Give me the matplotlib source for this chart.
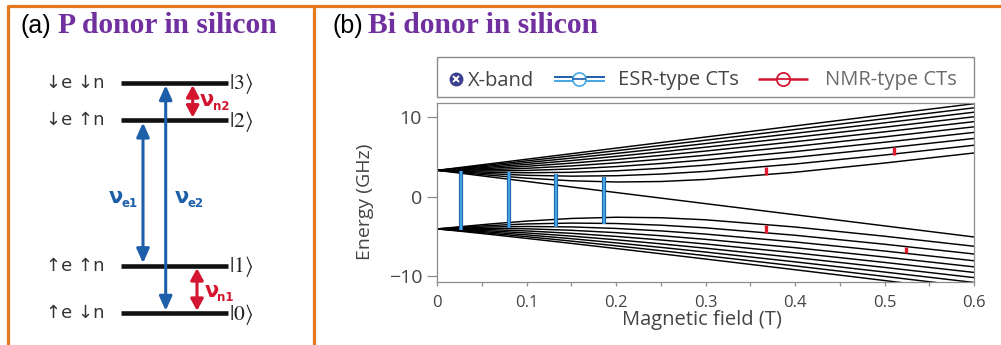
import matplotlib
matplotlib.use("Agg")
import matplotlib.pyplot as plt
from matplotlib.patches import Rectangle
from matplotlib.ticker import MultipleLocator

# ---------------- data ----------------
# Bi donor energy levels (GHz) versus magnetic field (T)
B_FIELD = [0.0, 0.03, 0.06, 0.10, 0.15, 0.20, 0.25, 0.30, 0.40, 0.50, 0.60]

UPPER_LEVELS = [
    [3.320, 2.900, 2.481, 1.921, 1.222, 0.523, -0.177, -0.876, -2.275, -3.674, -5.072],
    [3.320, 2.994, 2.690, 2.335, 2.003, 1.850, 1.911, 2.171, 3.079, 4.239, 5.505],
    [3.320, 3.085, 2.886, 2.693, 2.585, 2.640, 2.849, 3.186, 4.119, 5.249, 6.479],
    [3.320, 3.173, 3.071, 3.013, 3.069, 3.261, 3.570, 3.971, 4.960, 6.103, 7.330],
    [3.320, 3.259, 3.247, 3.305, 3.493, 3.791, 4.178, 4.634, 5.685, 6.856, 8.096],
    [3.320, 3.344, 3.414, 3.576, 3.875, 4.261, 4.714, 5.218, 6.333, 7.538, 8.798],
    [3.320, 3.426, 3.575, 3.830, 4.225, 4.687, 5.198, 5.747, 6.923, 8.166, 9.451],
    [3.320, 3.507, 3.729, 4.069, 4.551, 5.080, 5.644, 6.234, 7.468, 8.750, 10.062],
    [3.320, 3.586, 3.877, 4.296, 4.856, 5.446, 6.059, 6.687, 7.978, 9.299, 10.640],
    [3.320, 3.664, 4.020, 4.512, 5.144, 5.791, 6.448, 7.113, 8.459, 9.819, 11.189],
    [3.320, 3.740, 4.159, 4.719, 5.418, 6.117, 6.817, 7.516, 8.915, 10.314, 11.712],
]

LOWER_LEVELS = [
    [-4.058, -3.732, -3.428, -3.073, -2.741, -2.588, -2.649, -2.909, -3.817, -4.977, -6.243],
    [-4.058, -3.823, -3.624, -3.431, -3.323, -3.378, -3.587, -3.924, -4.857, -5.987, -7.217],
    [-4.058, -3.911, -3.809, -3.751, -3.807, -3.999, -4.308, -4.709, -5.698, -6.841, -8.068],
    [-4.058, -3.997, -3.985, -4.043, -4.231, -4.529, -4.916, -5.372, -6.423, -7.594, -8.834],
    [-4.058, -4.082, -4.152, -4.314, -4.613, -4.999, -5.452, -5.956, -7.071, -8.276, -9.536],
    [-4.058, -4.164, -4.313, -4.568, -4.963, -5.425, -5.936, -6.485, -7.661, -8.904, -10.189],
    [-4.058, -4.245, -4.467, -4.807, -5.289, -5.818, -6.382, -6.972, -8.206, -9.488, -10.800],
    [-4.058, -4.324, -4.615, -5.034, -5.594, -6.184, -6.797, -7.425, -8.716, -10.037, -11.378],
    [-4.058, -4.402, -4.758, -5.250, -5.882, -6.529, -7.186, -7.851, -9.197, -10.557, -11.927],
]

# ESR-type clock transitions (field, lower and upper energy)
ESR_FIELD = [0.0266, 0.0799, 0.1332, 0.1866]
ESR_LOW = [-4.15, -3.99, -3.77, -3.40]
ESR_HIGH = [3.27, 3.15, 2.85, 2.50]

# NMR-type clock transitions
NMR_FIELD = [0.367, 0.5106, 0.368, 0.5237]
NMR_LOW = [2.75, 5.30, -4.56, -7.15]
NMR_HIGH = [3.75, 6.20, -3.56, -6.30]

X_TICKS = [0, 0.1, 0.2, 0.3, 0.4, 0.5, 0.6]
X_TICK_LABELS = ["0", "0.1", "0.2", "0.3", "0.4", "0.5", "0.6"]
Y_TICKS = [-10, 0, 10]

# P donor level scheme
SPIN_LABELS = ["↑e ↓n", "↑e ↑n", "↓e ↑n", "↓e ↓n"]
KET_LABELS = [r"$|0\rangle$", r"$|1\rangle$", r"$|2\rangle$", r"$|3\rangle$"]

# ---------------- style ----------------
ORANGE = "#E4781E"
PURPLE = "#7030A0"
BLUE_DARK = "#1E5FAA"
BLUE_LIGHT = "#46A6E2"
RED = "#D3152F"
GRAY = "#8C8C8C"
TXT = "#444444"
SANS = ["Open Sans", "DejaVu Sans"]

fig = plt.figure(figsize=(10.01, 3.45), dpi=100)

# overlay in pixel units for frames, titles, legend and the level scheme
ov = fig.add_axes([0, 0, 1, 1], zorder=0)
ov.set_xlim(0, 1001)
ov.set_ylim(345, 0)
ov.axis("off")

# orange frames
ov.plot([8, 1001], [5.5, 5.5], color=ORANGE, lw=2.3, solid_capstyle="butt")
ov.plot([8, 8], [4.5, 345], color=ORANGE, lw=2.3, solid_capstyle="butt")
ov.plot([314, 314], [4.5, 345], color=ORANGE, lw=2.3, solid_capstyle="butt")

# panel titles
ov.text(21, 33, "(a)", fontsize=18, family="Liberation Sans", color="black", va="baseline")
ov.text(58, 33, "P donor in silicon", fontsize=21.3, family="Liberation Serif",
        fontweight="bold", color=PURPLE, va="baseline")
ov.text(333, 33, "(b)", fontsize=18, family="Liberation Sans", color="black", va="baseline")
ov.text(368, 33, "Bi donor in silicon", fontsize=21.3, family="Liberation Serif",
        fontweight="bold", color=PURPLE, va="baseline")

# ---- panel (a): P donor levels ----
LEVEL_Y = [313.3, 265.7, 120.0, 82.7]
for y, spin, ket in zip(LEVEL_Y, SPIN_LABELS, KET_LABELS):
    ov.plot([121, 228], [y, y], color="#111111", lw=3.3, solid_capstyle="butt", zorder=2)
    ov.text(105, y, spin, fontsize=13, family="DejaVu Sans", color="#333333",
            ha="right", va="center")
    ov.text(229, y + 1, ket, fontsize=15.5, math_fontfamily="stix", color="#222222",
            ha="left", va="center")


def double_arrow(x, y0, y1, color, head=0.85):
    ov.annotate("", xy=(x, y1), xytext=(x, y0),
                arrowprops=dict(arrowstyle=f"<|-|>,head_length={head},head_width=0.38",
                                mutation_scale=10, lw=2.2, color=color,
                                shrinkA=0, shrinkB=0), zorder=3)


def nu_label(x, y, sub, color):
    ov.text(x, y, "ν", fontsize=15, family="DejaVu Sans", fontweight="bold",
            color=color, ha="left", va="baseline")
    ov.text(x + 12.5, y + 4, sub, fontsize=8.5, family="DejaVu Sans", fontweight="bold",
            color=color, ha="left", va="baseline")


double_arrow(143, LEVEL_Y[2] + 2.5, LEVEL_Y[1] - 2.5, BLUE_DARK)
double_arrow(165.7, LEVEL_Y[3] + 2.5, LEVEL_Y[0] - 2.5, BLUE_DARK)
double_arrow(192.7, LEVEL_Y[3] + 2.5, LEVEL_Y[2] - 2.5, RED, head=0.7)
double_arrow(197, LEVEL_Y[1] + 2.5, LEVEL_Y[0] - 2.5, RED, head=0.7)
nu_label(109, 203, "e1", BLUE_DARK)
nu_label(175, 203, "e2", BLUE_DARK)
nu_label(200, 106, "n2", RED)
nu_label(205, 297, "n1", RED)

# ---- panel (b) legend ----
ov.add_patch(Rectangle((437.3, 56.7), 536.7, 40, fill=False, edgecolor=GRAY, lw=1.0))
ly = 78.5
ov.plot([456], [ly], marker="o", ms=9, color="#3C3F8E", mec="#3C3F8E", ls="none")
ov.plot([456], [ly], marker="x", ms=4.4, mew=1.4, color="white", ls="none")
ov.text(468, 85.5, "X-band", fontsize=14.5, family=SANS, color=TXT, va="baseline")

ov.plot([554, 605], [ly - 2, ly - 2], color=BLUE_DARK, lw=1.4, solid_capstyle="butt")
ov.plot([554, 605], [ly + 2, ly + 2], color=BLUE_LIGHT, lw=1.4, solid_capstyle="butt")
ov.plot([579], [ly], marker="o", ms=9.5, mfc="white", mec=BLUE_LIGHT, mew=1.2, ls="none")
ov.plot([573, 585], [ly, ly], color=BLUE_DARK, lw=1.2)
ov.text(618, 85.5, "ESR-type CTs", fontsize=14.5, family=SANS, color=TXT, va="baseline")

ov.plot([758, 808], [ly, ly], color=RED, lw=1.8, solid_capstyle="butt")
ov.plot([783], [ly], marker="o", ms=9.5, mfc="white", mec=RED, mew=1.3, ls="none")
ov.plot([777, 789], [ly, ly], color=RED, lw=1.3)
ov.text(825, 85.5, "NMR-type CTs", fontsize=14.5, family=SANS, color="#6A6A6A", va="baseline")

# ---- panel (b) axes ----
ax = fig.add_axes([437.3 / 1001, (345 - 282.3) / 345, (974 - 437.3) / 1001,
                   (282.3 - 103.3) / 345], zorder=1)
ax.set_facecolor("none")

for level in UPPER_LEVELS + LOWER_LEVELS:
    ax.plot(B_FIELD, level, color="black", lw=1.05, solid_joinstyle="round")

for b, lo, hi in zip(ESR_FIELD, ESR_LOW, ESR_HIGH):
    ax.plot([b, b], [lo, hi], color=BLUE_DARK, lw=3.0, solid_capstyle="butt", zorder=3)
    ax.plot([b, b], [lo, hi], color=BLUE_LIGHT, lw=1.6, solid_capstyle="butt", zorder=4)

for b, lo, hi in zip(NMR_FIELD, NMR_LOW, NMR_HIGH):
    ax.plot([b, b], [lo, hi], color="#E01A2A", lw=2.4, solid_capstyle="butt", zorder=4)

ax.set_xlim(0, 0.6)
ax.set_ylim(-10.78, 11.76)
ax.set_xticks(X_TICKS)
ax.set_xticklabels(X_TICK_LABELS)
ax.xaxis.set_minor_locator(MultipleLocator(0.05))
ax.set_yticks(Y_TICKS)
ax.set_yticklabels(["\u221210", "0", "10"])

for sp in ax.spines.values():
    sp.set_color(GRAY)
    sp.set_linewidth(0.9)

ax.tick_params(axis="x", which="both", direction="out", length=3, width=0.9,
               color=GRAY, labelsize=12, labelcolor=TXT, pad=6)
ax.tick_params(axis="y", direction="out", length=7, width=0.9, color=GRAY,
               labelsize=14, labelcolor=TXT, pad=4)
for lab in ax.get_xticklabels() + ax.get_yticklabels():
    lab.set_family(SANS)

ax.set_xlabel("Magnetic field (T)", fontsize=14.5, family=SANS, color=TXT)
ax.xaxis.set_label_coords(0.494, -0.155)
ax.set_ylabel("Energy (GHz)", fontsize=14, family=SANS, color=TXT, va="center")
ax.yaxis.set_label_coords(-0.135, 0.45)

fig.savefig("out.png", dpi=100)
